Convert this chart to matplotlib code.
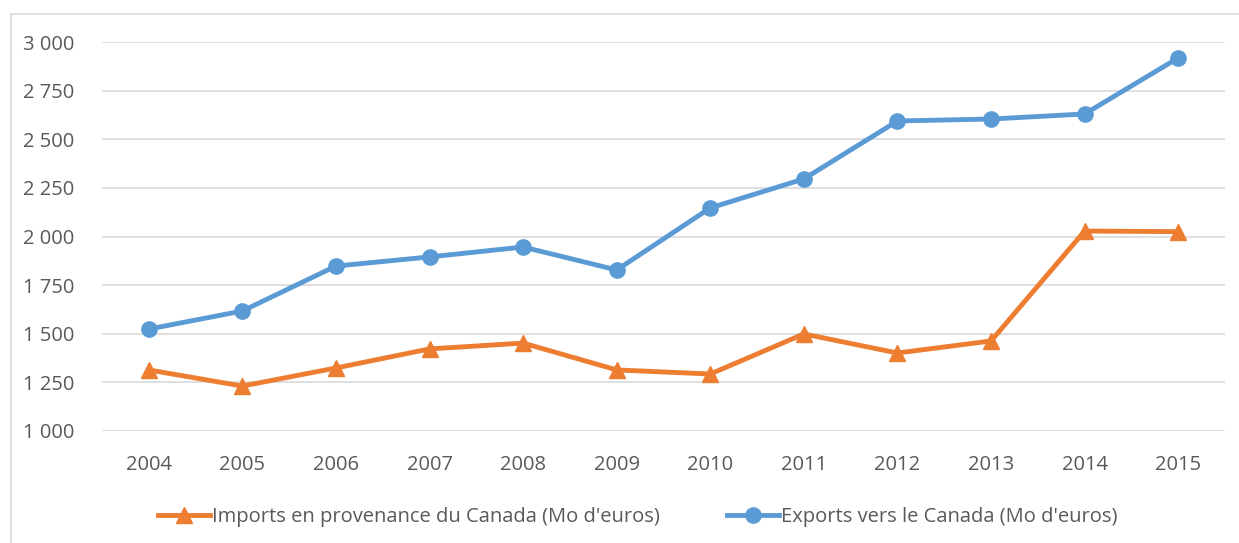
import matplotlib.pyplot as plt
from matplotlib.patches import Rectangle
from matplotlib.ticker import FuncFormatter

years = [2004, 2005, 2006, 2007, 2008, 2009, 2010, 2011, 2012, 2013, 2014, 2015]
imports = [1314, 1231, 1324, 1422, 1452, 1314, 1293, 1499, 1401, 1463, 2028, 2025]
exports = [1524, 1617, 1848, 1895, 1946, 1828, 2147, 2296, 2594, 2604, 2630, 2918]

orange = '#ED7D31'
blue = '#5B9BD5'
txt = '#595959'

plt.rcParams['font.family'] = ['Open Sans', 'DejaVu Sans']

fig = plt.figure(figsize=(12.39, 5.43), dpi=100)
fig.patches.append(Rectangle((11 / 1239, -0.1), 1.2, (543 - 14) / 543 + 0.1,
                             transform=fig.transFigure, fill=False,
                             edgecolor='#D9D9D9', linewidth=1.2))

ax = fig.add_axes([102 / 1239, 112 / 543, 1123 / 1239, 389 / 543])
x = range(len(years))
ax.plot(x, imports, color=orange, linewidth=3.5, marker='^', markersize=11,
        label="Imports en provenance du Canada (Mo d'euros)")
ax.plot(x, exports, color=blue, linewidth=3.5, marker='o', markersize=11,
        label="Exports vers le Canada (Mo d'euros)")

ax.set_xlim(-0.5, len(years) - 0.5)
ax.set_ylim(1000, 3000)
ax.set_yticks(range(1000, 3001, 250))
ax.yaxis.set_major_formatter(FuncFormatter(lambda v, p: f'{int(v):,}'.replace(',', ' ')))
ax.set_xticks(list(x))
ax.set_xticklabels([str(y) for y in years])
ax.grid(axis='y', color='#D9D9D9', linewidth=1.2)
ax.set_axisbelow(True)
for s in ax.spines.values():
    s.set_visible(False)
ax.tick_params(length=0, labelsize=14.5, colors=txt, pad=17)
ax.tick_params(axis='y', pad=20)

leg = ax.legend(loc='upper center', bbox_to_anchor=(0.477, -0.15), ncol=2,
                frameon=False, fontsize=14.5, handlelength=2.6, handletextpad=0.1,
                columnspacing=3.3)
for t in leg.get_texts():
    t.set_color(txt)

fig.savefig('out.png', dpi=100)
